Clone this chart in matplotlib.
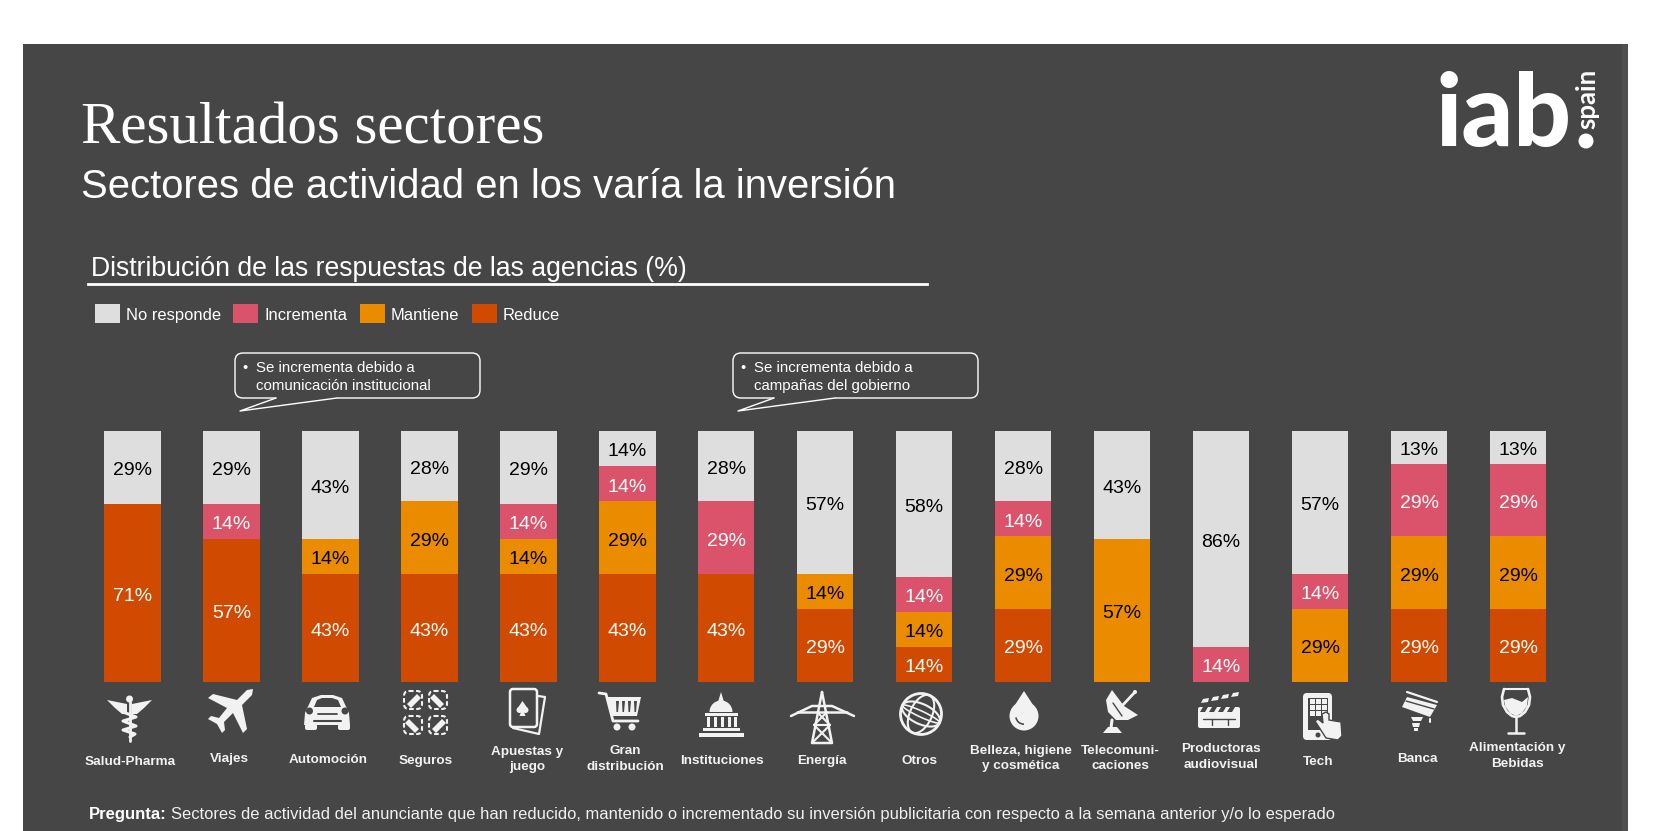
#sector results chart, stacked bars + hand drawn pictograms
import matplotlib
matplotlib.use('Agg')
import matplotlib.pyplot as plt
from matplotlib.patches import Rectangle, Circle, Ellipse, Polygon, FancyBboxPatch, Wedge

sectors = ['Salud-Pharma', 'Viajes', 'Automoción', 'Seguros', 'Apuestas y\njuego', 'Gran\ndistribución',
           'Instituciones', 'Energía', 'Otros', 'Belleza, higiene\ny cosmética', 'Telecomuni-\ncaciones',
           'Productoras\naudiovisual', 'Tech', 'Banca', 'Alimentación y\nBebidas']
reduce_v = [71, 57, 43, 43, 43, 43, 43, 29, 14, 29, 0, 0, 0, 29, 29]
mantiene = [0, 0, 14, 29, 14, 29, 0, 14, 14, 29, 57, 0, 29, 29, 29]
incrementa = [0, 14, 0, 0, 14, 14, 29, 0, 14, 14, 0, 14, 14, 29, 29]
no_responde = [29, 29, 43, 28, 29, 14, 28, 57, 58, 28, 43, 86, 57, 13, 13]

series = [('Reduce', reduce_v, '#D04A02', 'white'),
          ('Mantiene', mantiene, '#EB8C00', 'black'),
          ('Incrementa', incrementa, '#DB536A', 'white'),
          ('No responde', no_responde, '#DEDEDE', 'black')]

BG = '#464646'
ICON = '#F2F2F2'
plt.rcParams['font.family'] = ['Liberation Sans', 'DejaVu Sans']

fig = plt.figure(figsize=(16.53, 8.31), dpi=100, facecolor='white')

# overlay in image pixels for the slide furniture
ov = fig.add_axes([0, 0, 1, 1], zorder=1)
ov.set_xlim(0, 1653)
ov.set_ylim(831, 0)
ov.axis('off')
ov.add_patch(Rectangle((23, 44), 1605, 787, color=BG, lw=0))
ov.add_patch(Rectangle((1622, 44), 6, 787, color='#4D4F50', lw=0))

ov.text(81, 144, 'Resultados sectores', color='white', family='Liberation Serif', fontsize=42.5, va='baseline')
ov.text(81, 198, 'Sectores de actividad en los varía la inversión', color='white', fontsize=28.8, va='baseline')
ov.text(91, 276, 'Distribución de las respuestas de las agencias (%)', color='white', fontsize=19.2, va='baseline')
ov.plot([88, 927], [284, 284], color='white', lw=2)

# legend
for x0, name, c in [(95, 'No responde', '#DEDEDE'), (233, 'Incrementa', '#DB536A'),
                    (360, 'Mantiene', '#EB8C00'), (472, 'Reduce', '#D04A02')]:
    ov.add_patch(Rectangle((x0, 304), 25, 19, color=c, lw=0))
    ov.text(x0 + 31, 315.5, name, color='white', fontsize=11.9, va='center')

# callouts
def callout(x0, lines):
    ov.add_patch(FancyBboxPatch((x0 + 6, 359), 233, 33, boxstyle='round,pad=6,rounding_size=8',
                                fc=BG, ec='white', lw=1))
    t = [(x0 + 41, 398), (x0 + 5, 411), (x0 + 102, 398)]
    ov.plot([t[0][0] + 1, t[2][0] - 1], [398, 398], color=BG, lw=1.6, zorder=3)
    ov.plot(*zip(*t), color='white', lw=1, zorder=4)
    ov.text(x0 + 7, 368, '•', color='white', fontsize=10.5, va='center')
    ov.text(x0 + 21, 368.5, lines[0], color='white', fontsize=10.8, va='center')
    ov.text(x0 + 21, 386, lines[1], color='white', fontsize=10.8, va='center')

callout(235, ['Se incrementa debido a', 'comunicación institucional'])
callout(733, ['Se incrementa debido a', 'campañas del gobierno'])

# logo
ov.text(1436, 146, 'iab', color='white', family='Lato', weight='black', fontsize=73, va='baseline')
ov.add_patch(Circle((1586, 141), 7.5, color='white', lw=0))
ov.text(1587, 129, 'spain', color='white', family='Lato', weight='bold', fontsize=18.5, rotation=90,
        ha='center', va='bottom')

# bars
ax = fig.add_axes([83 / 1653, 1 - 682 / 831, 1484.5 / 1653, 251 / 831], zorder=2)
ax.patch.set_alpha(0)
xs = list(range(len(sectors)))
bottom = [0] * len(sectors)
for name, vals, c, tc in series:
    bars = ax.bar(xs, vals, 0.57, bottom=bottom, color=c, label=name)
    ax.bar_label(bars, labels=['%d%%' % v if v else '' for v in vals], label_type='center',
                 color=tc, fontsize=14, padding=-2.4)
    bottom = [b + v for b, v in zip(bottom, vals)]
ax.set_xlim(-0.5, 14.5)
ax.set_ylim(0, 100)
ax.axis('off')

# sector names under the pictograms
name_pos = [(130, 762), (229.5, 759), (328, 760), (426, 761), (527, 759.5), (625, 759), (722, 761), (822, 761),
            (919, 761), (1021, 758.5), (1120, 758.5), (1221, 757), (1318.5, 762), (1417, 759), (1517, 756)]
for s, (x, y) in zip(sectors, name_pos):
    ov.text(x, y, s, color='#F2F2F2', weight='bold', fontsize=9.7, ha='center', va='center', linespacing=1.35)

# footer
ov.text(89, 814, 'Pregunta:', color='white', weight='bold', fontsize=12, va='center')
ov.text(171, 814, 'Sectores de actividad del anunciante que han reducido, mantenido o incrementado su inversión '
        'publicitaria con respecto a la semana anterior y/o lo esperado', color='#F0F0F0', fontsize=11.86, va='center')

# pictograms
def line(xs_, ys_, lw=2, c=ICON):
    ov.plot(xs_, ys_, color=c, lw=lw, solid_capstyle='round', solid_joinstyle='round')

def poly(pts, c=ICON):
    ov.add_patch(Polygon(pts, closed=True, color=c, lw=0))

# caduceus
line([129.5, 129.5], [702, 741], 2)
ov.add_patch(Circle((129.5, 699), 3.5, color=ICON, lw=0))
poly([(107, 700), (127, 704), (127, 714), (122, 714), (115, 708)])
poly([(152, 700), (132, 704), (132, 714), (137, 714), (144, 708)])
line([123, 136, 123, 136, 123, 135, 130], [712, 717, 721, 726, 730, 734, 737], 2.2)
# plane
poly([(253, 689), (247, 690), (237, 700), (213, 694), (208, 698), (227, 708), (219, 718), (211, 716), (208, 719),
      (217, 724), (222, 733), (225, 730), (224, 722), (233, 713), (243, 733), (247, 729), (242, 705), (252, 695)])
# car
poly([(305, 713), (312, 698), (321, 695), (333, 695), (342, 698), (349, 713), (350, 725), (304, 725)])
poly([(314, 707), (317, 700), (322, 698), (332, 698), (338, 700), (341, 707)], BG)
ov.add_patch(FancyBboxPatch((305, 724), 12, 6, boxstyle='round,pad=0,rounding_size=2', color=ICON, lw=0))
ov.add_patch(FancyBboxPatch((338, 724), 12, 6, boxstyle='round,pad=0,rounding_size=2', color=ICON, lw=0))
ov.add_patch(Circle((309.5, 711), 3.5, color=BG, lw=0))
ov.add_patch(Circle((345, 711), 3.5, color=BG, lw=0))
line([318, 337], [714, 714], 1.3, BG)
line([314, 341], [721, 721], 1.5, BG)
# seguros, four dashed boxes with a diagonal band
for x0, y0, flip in [(404, 691, 1), (429, 691, -1), (404, 716, -1), (429, 716, 1)]:
    p = FancyBboxPatch((x0, y0), 18, 18, boxstyle='round,pad=0,rounding_size=5', fc='none', ec=ICON, lw=1.5)
    p.set_linestyle((0, (2.2, 1.2)))
    ov.add_patch(p)
    if flip == 1:
        poly([(x0 + 3, y0 + 13), (x0 + 13, y0 + 3), (x0 + 17, y0 + 7), (x0 + 7, y0 + 17)])
    else:
        poly([(x0 + 5, y0 + 3), (x0 + 15, y0 + 13), (x0 + 11, y0 + 17), (x0 + 1, y0 + 7)])
# cards
line([538, 545, 539, 513], [696, 697, 734, 728], 1.6)
ov.add_patch(FancyBboxPatch((510, 689), 27, 38, boxstyle='round,pad=0,rounding_size=3', fc=BG, ec=ICON, lw=1.8))
ov.add_patch(Circle((519.5, 710), 3, color=ICON, lw=0))
ov.add_patch(Circle((525.5, 710), 3, color=ICON, lw=0))
poly([(522.5, 701), (528, 709), (517, 709)])
poly([(522.5, 708), (525.5, 716), (519.5, 716)])
# cart
line([599, 606, 613, 638], [693, 694, 721, 721], 2)
poly([(606, 697), (641, 697), (637, 716), (612, 716)])
for x in [616, 622, 628, 634]:
    poly([(x, 701), (x + 3, 701), (x + 2, 712), (x + 0.5, 712)], BG)
ov.add_patch(Circle((617, 727), 3.5, color=ICON, lw=0))
ov.add_patch(Circle((632, 727), 3.5, color=ICON, lw=0))
# capitol
ov.add_patch(Wedge((721, 712), 11.5, 180, 360, color=ICON, lw=0))
poly([(721, 692), (724, 702), (718, 702)])
ov.add_patch(Rectangle((705, 713), 33, 3, color=ICON, lw=0))
for x in [708, 715, 722, 729, 735]:
    ov.add_patch(Rectangle((x - 1.5, 717), 3.5, 10, color=ICON, lw=0))
ov.add_patch(Rectangle((703, 728), 37, 3, color=ICON, lw=0))
ov.add_patch(Rectangle((699, 733), 45, 4, color=ICON, lw=0))
# tower
line([822, 812, 832, 822], [692, 743, 743, 692], 1.8)
line([791, 812, 832, 854], [716, 706, 706, 716], 1.8)
line([797, 817, 827, 847], [712, 712, 712, 712], 1.8)
line([817, 830, 814, 832], [712, 725, 725, 743], 1.5)
line([827, 814, 830, 812], [712, 725, 725, 743], 1.5)
# globe
ov.add_patch(Circle((921, 714), 20.5, fc='none', ec=ICON, lw=2))
ov.add_patch(Ellipse((921, 714), 22, 41, angle=25, fc='none', ec=ICON, lw=1.5))
ov.add_patch(Ellipse((921, 714), 41, 20, angle=25, fc='none', ec=ICON, lw=1.5))
ov.add_patch(Ellipse((921, 714), 41, 6, angle=25, fc='none', ec=ICON, lw=1.2))
# drop
ov.add_patch(Circle((1024, 716), 14.5, color=ICON, lw=0))
poly([(1024, 691), (1011, 711), (1037, 711)])
ov.add_patch(Wedge((1024, 716), 9, 90, 170, width=1.6, color=BG, lw=0))
# dish
poly([(1112, 690), (1106, 700), (1108, 712), (1116, 720), (1128, 720), (1138, 715), (1124, 706)])
line([1113, 1122], [703, 716], 1, BG)
line([1121, 1135], [707, 692], 2)
ov.add_patch(Circle((1135, 692), 2, color=ICON, lw=0))
line([1112, 1111], [720, 728], 2.2)
poly([(1103, 733), (1122, 733), (1117, 727), (1108, 727)])
# clapper
ov.add_patch(FancyBboxPatch((1198, 707), 42, 21, boxstyle='round,pad=0,rounding_size=2', color=ICON, lw=0))
for x in [1203, 1212, 1221, 1230]:
    poly([(x, 707), (x + 5, 707), (x + 2, 712), (x - 3, 712)], BG)
for x, y in [(1199, 699), (1209, 697), (1219, 695), (1229, 693)]:
    poly([(x + 4, y), (x + 10, y - 1), (x + 9, y + 3), (x + 2, y + 4)])
line([1203, 1235], [718.5, 718.5], 1, BG)
line([1212, 1212], [719, 725], 1, BG)
line([1228, 1228], [719, 725], 1, BG)
# phone with hand
ov.add_patch(FancyBboxPatch((1303, 693), 29, 47, boxstyle='round,pad=0,rounding_size=4', color=ICON, lw=0))
ov.add_patch(Rectangle((1308, 698), 20, 32, color=BG, lw=0))
ov.add_patch(Circle((1318, 735), 2.5, color=BG, lw=0))
for i in range(3):
    for j in range(3):
        ov.add_patch(Rectangle((1310 + i * 6, 699 + j * 6), 4.5, 4.5, color=ICON, lw=0))
ov.add_patch(Polygon([(1322, 714), (1326, 712), (1329, 714), (1329, 720), (1341, 722), (1342, 736), (1338, 740),
                      (1326, 738), (1315, 721), (1318, 719), (1323, 723)], closed=True, fc=ICON, ec=BG, lw=1))
# bank card
line([1407, 1437], [692, 702], 1.6)
poly([(1407, 697), (1437, 705), (1430, 717), (1402, 707)])
line([1406, 1434], [701, 709], 1, BG)
poly([(1411, 717), (1423, 717), (1421, 721), (1413, 721)])
poly([(1412, 723), (1420, 723), (1419, 727), (1413, 727)])
ov.add_patch(Rectangle((1414, 728), 4, 3, color=ICON, lw=0))
line([1430, 1430], [719, 722], 1.5)
# wine glass
poly([(1504, 700), (1512, 698), (1522, 702), (1528, 697), (1527, 706), (1522, 713), (1516, 716), (1510, 713), (1505, 706)])
line([1504, 1502, 1503, 1507, 1512, 1516, 1520, 1525, 1529, 1530, 1528],
     [689, 697, 705, 712, 716, 717, 716, 712, 705, 697, 689], 1.9)
line([1504, 1528], [689, 689], 1.5)
line([1516, 1516], [717, 732], 1.8)
line([1508, 1524], [733, 733], 1.8)

fig.savefig('out.png', dpi=100)
